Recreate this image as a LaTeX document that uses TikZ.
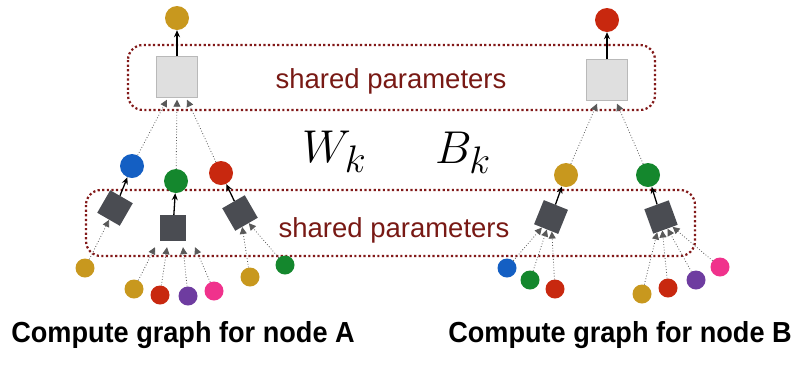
\documentclass[tikz,border=0pt]{standalone}
\usepackage{fontspec}
\setmainfont{Liberation Sans}
\newfontfamily\labelfont[FakeStretch=0.935]{Liberation Sans}
\usepackage{graphicx}
\usepackage{tikz}
\usetikzlibrary{arrows.meta, positioning, calc}
\usepackage{xcolor}

\definecolor{cgold}{RGB}{200,152,30}
\definecolor{cblue}{RGB}{20,95,195}
\definecolor{cgreen}{RGB}{20,135,45}
\definecolor{cred}{RGB}{200,40,15}
\definecolor{cpurple}{RGB}{110,60,160}
\definecolor{cpink}{RGB}{240,50,140}
\definecolor{boxgray}{RGB}{74,76,82}
\definecolor{framered}{RGB}{130,25,25}
\definecolor{textred}{RGB}{120,25,20}

\begin{document}
\begin{tikzpicture}[x=1pt, y=-1pt,
    emb/.style={circle, minimum size=24pt, inner sep=0pt},
    leaf/.style={circle, minimum size=19pt, inner sep=0pt},
    agg/.style={draw=gray!55, fill=gray!25, minimum size=41pt, inner sep=0pt},
    nn/.style={fill=boxgray, minimum size=26pt, inner sep=0pt},
    frame/.style={draw=framered, line width=2.2pt, dash pattern=on 2.2pt off 2.4pt, rounded corners=15pt},
    shared/.style={anchor=base, text=textred, font=\fontsize{27.5}{30}\selectfont},
    sym/.style={anchor=base west, inner sep=0pt, font=\Huge},
    arr/.style={-{Stealth[length=7pt, width=6pt]}, line width=1.3pt},
    msg/.style={dotted, line width=0.8pt, gray!70!black, -{Triangle[length=7pt, width=7pt]}}
]
\useasboundingbox (0,0) rectangle (802,365);

% shared parameter frames
\draw[frame] (128,45) rectangle (655,110);
\draw[frame] (86,190) rectangle (695,256);
\node[shared] (spTop) at (391,88) {shared parameters};
\node[shared] (spBot) at (394,237) {shared parameters};

\node[sym] (wk) at (302,162) {\scalebox{1.85}{$W_k$}};
\node[sym] (bk) at (435,163) {\scalebox{1.85}{$B_k$}};

% compute graph for node A
\node[emb, fill=cgold] (outA) at (177,18) {};
\node[agg] (aggA) at (177,77) {};
\node[emb, fill=cblue] (hA1) at (132,166) {};
\node[emb, fill=cgreen] (hA2) at (176,181) {};
\node[emb, fill=cred] (hA3) at (221,173) {};
\node[nn, rotate=-30] (nA1) at (115,208) {};
\node[nn] (nA2) at (173,228) {};
\node[nn, rotate=30] (nA3) at (240,213) {};
\node[leaf, fill=cgold] (xA1) at (85,268) {};
\node[leaf, fill=cgold] (xA2) at (134,289) {};
\node[leaf, fill=cred] (xA3) at (160,295) {};
\node[leaf, fill=cpurple] (xA4) at (188,296) {};
\node[leaf, fill=cpink] (xA5) at (214,291) {};
\node[leaf, fill=cgold] (xA6) at (250,277) {};
\node[leaf, fill=cgreen] (xA7) at (285,265) {};

\draw[arr] (aggA) -- (outA);
\draw[msg] (hA1) -- ([xshift=-10pt, yshift=-2pt]aggA.south);
\draw[msg] (hA2) -- ([yshift=-2pt]aggA.south);
\draw[msg] (hA3) -- ([xshift=10pt, yshift=-2pt]aggA.south);
\draw[arr] (nA1) -- (hA1);
\draw[arr] (nA2) -- (hA2);
\draw[arr] (nA3) -- (hA3);
\draw[msg] (xA1) -- (nA1);
\draw[msg] (xA2) -- ([xshift=-18pt, yshift=-6pt]nA2.south);
\draw[msg] (xA3) -- ([xshift=-6pt, yshift=-6pt]nA2.south);
\draw[msg] (xA4) -- ([xshift=10pt, yshift=-6pt]nA2.south);
\draw[msg] (xA5) -- ([xshift=22pt, yshift=-6pt]nA2.south);
\draw[msg] (xA6) -- (nA3);
\draw[msg] (xA7) -- (nA3);

% compute graph for node B
\node[emb, fill=cred] (outB) at (607,20) {};
\node[agg] (aggB) at (607,80) {};
\node[emb, fill=cgold] (hB1) at (566,175) {};
\node[emb, fill=cgreen] (hB2) at (648,175) {};
\node[nn, rotate=-22] (nB1) at (551,217) {};
\node[nn, rotate=20] (nB2) at (661,217) {};
\node[leaf, fill=cblue] (xB1) at (507,268) {};
\node[leaf, fill=cgreen] (xB2) at (530,280) {};
\node[leaf, fill=cred] (xB3) at (555,289) {};
\node[leaf, fill=cgold] (xB4) at (642,294) {};
\node[leaf, fill=cred] (xB5) at (668,288) {};
\node[leaf, fill=cpurple] (xB6) at (696,280) {};
\node[leaf, fill=cpink] (xB7) at (720,267) {};

\draw[arr] (aggB) -- (outB);
\draw[msg] (hB1) -- ([xshift=-10pt, yshift=-3pt]aggB.south);
\draw[msg] (hB2) -- ([xshift=10pt, yshift=-3pt]aggB.south);
\draw[arr] (nB1) -- (hB1);
\draw[arr] (nB2) -- (hB2);
\draw[msg] (xB1) -- (nB1);
\draw[msg] (xB2) -- (nB1);
\draw[msg] (xB3) -- (nB1);
\draw[msg] (xB4) -- (nB2);
\draw[msg] (xB5) -- (nB2);
\draw[msg] (xB6) -- (nB2);
\draw[msg] (xB7) -- (nB2);

% captions
\node[anchor=base, inner sep=0pt, font=\labelfont\bfseries\fontsize{29}{32}\selectfont] (capA) at (183,342) {Compute graph for node A};
\node[anchor=base, inner sep=0pt, font=\labelfont\bfseries\fontsize{29}{32}\selectfont] (capB) at (620,342) {Compute graph for node B};
\end{tikzpicture}
\end{document}
